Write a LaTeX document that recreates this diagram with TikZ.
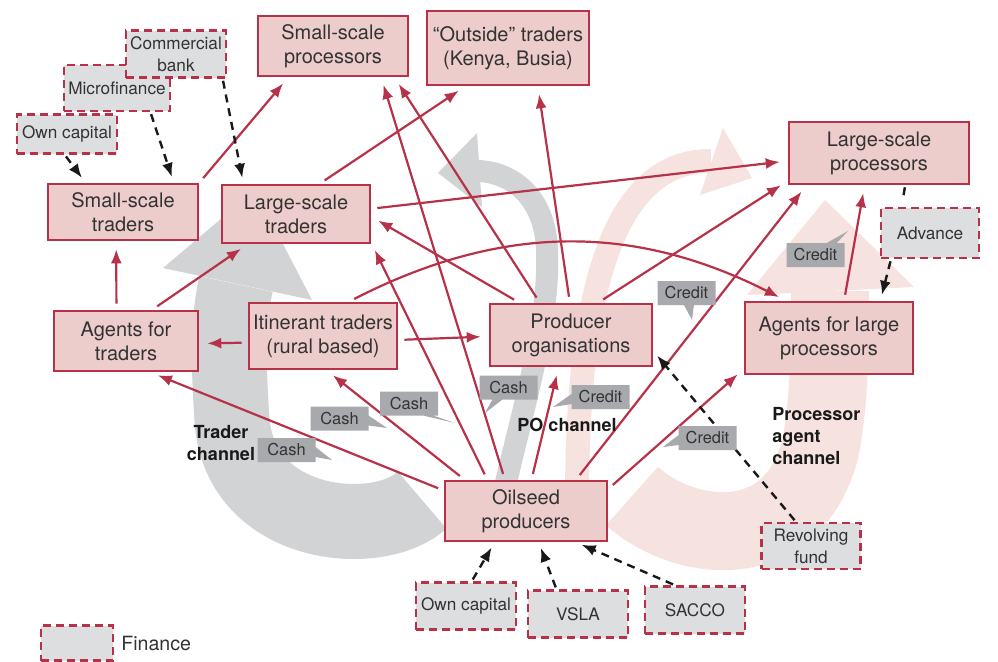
\documentclass[tikz,border=0pt]{standalone}
\usepackage{fontspec}
\setmainfont{TeX Gyre Heros}
\usetikzlibrary{positioning,arrows.meta,shapes.callouts}

\definecolor{chred}{RGB}{183,49,72}
\definecolor{boxpink}{RGB}{237,205,203}
\definecolor{fingray}{RGB}{221,222,224}
\definecolor{notegray}{RGB}{167,169,172}
\definecolor{bggray}{RGB}{209,211,212}
\definecolor{bgpink}{RGB}{246,226,223}
\definecolor{txtgray}{RGB}{51,51,51}

\begin{document}
\begin{tikzpicture}[
        x=0.5pt, y=-0.5pt,
        >={Latex[length=7pt,width=5.5pt]},
        box/.style={rectangle, draw=chred, fill=boxpink, line width=1.3pt, inner sep=0pt, align=center, text=txtgray, font=\fontsize{10}{12}\selectfont},
        box-finance/.style={rectangle, draw=chred, fill=fingray, line width=1.3pt, dash pattern=on 4pt off 2.5pt, inner sep=0pt, align=center, text=txtgray, font=\fontsize{8.6}{11}\selectfont},
        arrow/.style={->, draw=chred, line width=1.1pt, shorten <=3pt, shorten >=4pt},
        arrow-finance/.style={->, draw=black!90, line width=1.2pt, dash pattern=on 4pt off 3pt, shorten <=1pt, shorten >=3pt},
        note/.style={rectangle callout, fill=notegray, text=txtgray, inner sep=0pt, minimum width=29pt, minimum height=12pt, callout pointer width=5pt, font=\fontsize{8.2}{10}\selectfont},
        channel/.style={text=black!90, inner sep=0pt, font=\bfseries\fontsize{9}{11}\selectfont}
    ]
    \useasboundingbox (0,0) rectangle (998,661);

    % Channel arrows in the background
    \draw[bgpink, line width=39pt] (632,496) .. controls (680,540) and (790,560) .. (820,450) .. controls (830,400) and (830,340) .. (830,291);
    \fill[bgpink] (747,295) -- (825,200) -- (914,287) -- cycle;
    \draw[bgpink, line width=12pt] (577,492) .. controls (578,330) and (600,160) .. (711,161);
    \fill[bgpink] (723,128) -- (752,178) -- (700,195) -- cycle;
    \draw[bggray, line width=37.5pt] (422,500) .. controls (380,540) and (240,530) .. (232,420) .. controls (228,360) and (228,320) .. (236,284);
    \fill[bggray] (163,268) -- (255,190) -- (312,300) -- cycle;
    \draw[bggray, line width=11pt] (503,495) .. controls (525,400) and (550,320) .. (547,250) .. controls (545,195) and (510,172) .. (478,171);
    \fill[bggray] (477,133) -- (438,173) -- (482,207) -- cycle;

    % Buyers - top row
    \node[box, minimum width=75pt, minimum height=30pt] (ssp) at (333,46) {Small-scale\\processors};
    \node[box, minimum width=81pt, minimum height=37pt] (outside) at (508,48) {“Outside” traders\\(Kenya, Busia)};
    \node[box, minimum width=90pt, minimum height=31pt] (lsp) at (879,153) {Large-scale\\processors};

    % Traders
    \node[box, minimum width=75pt, minimum height=28pt] (sst) at (123,212) {Small-scale\\traders};
    \node[box, minimum width=74pt, minimum height=29pt] (lst) at (296,214) {Large-scale\\traders};
    \node[box, minimum width=72pt, minimum height=30pt] (aft) at (126,341) {Agents for\\traders};
    \node[box, minimum width=74pt, minimum height=33pt] (itin) at (323,336) {Itinerant traders\\(rural based)};

    % Producers and their organisations
    \node[box, minimum width=81pt, minimum height=31pt] (po) at (571,335) {Producer\\organisations};
    \node[box, minimum width=84pt, minimum height=36pt] (alp) at (829,338) {Agents for large\\processors};
    \node[box, minimum width=81pt, minimum height=30pt] (osp) at (526,511) {Oilseed\\producers};

    % Finance
    \node[box-finance, minimum width=53pt, minimum height=23pt] (micro) at (117,88) {Microfinance};
    \node[box-finance, minimum width=50pt, minimum height=23.5pt] (bank) at (176,54) {Commercial\\bank};
    \node[box-finance, minimum width=50pt, minimum height=19.5pt] (own-top) at (67,134) {Own capital};
    \node[box-finance, minimum width=49pt, minimum height=25pt] (adv) at (930,233) {Advance};
    \node[box-finance, minimum width=49.5pt, minimum height=23pt] (rev) at (811,546) {Revolving\\fund};
    \node[box-finance, minimum width=50pt, minimum height=23.5pt] (own-bot) at (466,606) {Own capital};
    \node[box-finance, minimum width=50pt, minimum height=23.5pt] (vsla) at (578,614) {VSLA};
    \node[box-finance, minimum width=50pt, minimum height=23.5pt] (sacco) at (695,610) {SACCO};

    % Legend
    \node[box-finance, minimum width=36pt, minimum height=17.5pt] (legend) at (77,643) {};
    \node[text=txtgray, font=\fontsize{9.8}{12}\selectfont, right=0pt of legend] (legend-text) {Finance};

    % Produce flows
    \draw[arrow] (sst.21) -- (ssp.215);
    \draw[arrow] (lst.52) -- (outside.222);
    \draw[arrow] (lst.4) -- (lsp.185);
    \draw[arrow] (aft.107) -- (sst.257);
    \draw[arrow] (aft.50) -- (lst.212);
    \draw[arrow] (itin.185) -- (aft.358);
    \draw[arrow] (itin.357) -- (po.181);
    \draw[arrow] (itin.53) to[bend left=27] (alp.139);
    \draw[arrow] (po.148) -- (lst.358);
    \draw[arrow] (po.134) -- (ssp.333);
    \draw[arrow] (po.92) -- (outside.308);
    \draw[arrow] (po.50) -- (lsp.197);
    \draw[arrow] (osp.166) -- (aft.308);
    \draw[arrow] (osp.153) -- (itin.276);
    \draw[arrow] (osp.141) -- (lst.339);
    \draw[arrow] (osp.124) -- (ssp.327);
    \draw[arrow] (osp.80) -- (po.249);
    \draw[arrow] (osp.32) -- (lsp.204);
    \draw[arrow] (osp.15) -- (alp.200);
    \draw[arrow] (alp.68) -- (lsp.246);

    % Finance flows
    \draw[arrow-finance] (own-top.264) -- (sst.142);
    \draw[arrow-finance] (micro.324) -- (sst.30);
    \draw[arrow-finance] (bank.332) -- (lst.150);
    \draw[arrow-finance] (own-bot.77) -- (osp.225);
    \draw[arrow-finance] (vsla.131) -- (osp.292);
    \draw[arrow-finance] (sacco.129) -- (osp.328);
    \draw[arrow-finance] (rev.122) -- (po.349);
    \draw[arrow-finance] (adv.214) -- (alp.36);
    \draw[arrow-finance, -] (lsp.309) -- (adv.137);

    % Payment notes
    \node[note, callout absolute pointer={(332,460)}] (cash1) at (286.5,450) {Cash};
    \node[note, callout absolute pointer={(387,428)}] (cash2) at (339.5,418.5) {Cash};
    \node[note, callout absolute pointer={(455,423)}] (cash3) at (409,403.5) {Cash};
    \node[note, callout absolute pointer={(485,413)}] (cash4) at (508.5,387.5) {Cash};
    \node[note, callout absolute pointer={(553,407)}] (credit1) at (600.5,397) {Credit};
    \node[note, callout absolute pointer={(663,447)}] (credit2) at (707.5,438) {Credit};
    \node[note, callout absolute pointer={(692,320)}] (credit3) at (686.5,293) {Credit};
    \node[note, callout absolute pointer={(848,231)}] (credit4) at (815.5,255) {Credit};

    % Channel labels
    \node[channel, align=center] (trader-ch) at (221,443) {Trader\\channel};
    \node[channel] (po-ch) at (567,425) {PO channel};
    \node[channel, align=left, anchor=west] (proc-ch) at (772,436) {Processor\\agent\\channel};

\end{tikzpicture}
\end{document}
